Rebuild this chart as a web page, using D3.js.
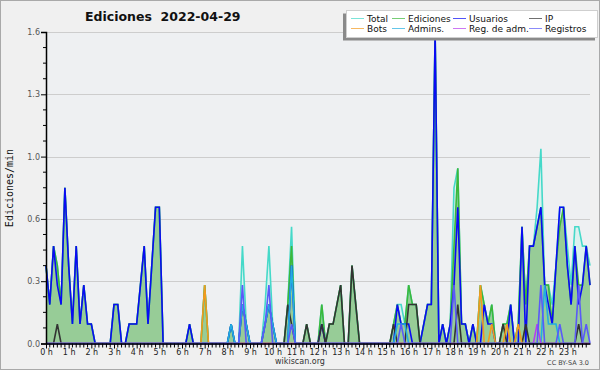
<!DOCTYPE html>
<html>
<head>
<meta charset="utf-8">
<script src="https://cdn.jsdelivr.net/npm/d3@7"></script>
<style>
  body { margin: 0; background: #f0f0f0; }
  svg { display: block; font-family: "DejaVu Sans", sans-serif; }
</style>
</head>
<body>
<div id="chart"></div>
<script>
// edits per minute, one value every 10 minutes from 0:00 to 24:00 (145 values)
// each line below holds 4 hours
const total = [
  .4,.2,.5,.4,.2,.8, .4,.1,.5,.1,.3,.1, .1,0,0,0,0,0, .2,.2,0,0,.1,.1,
  .1,.3,.5,.1,.4,.7, .7,0,0,0,0,0, 0,0,.1,0,0,0, .3,0,0,0,0,0,
  0,.1,0,0,.5,.1, 0,0,0,0,.2,.5, .1,0,0,0,.2,.6, 0,0,0,.1,0,0,
  0,.2,0,.1,.1,.2, .3,0,0,.4,.2,0, 0,0,0,0,0,0, 0,0,.1,.2,.2,.1,
  .3,.2,.2,0,.1,.2, .2,1.6,0,.1,0,.1, .8,.9,.1,.1,0,.1, 0,.3,.2,.1,.2,0,
  0,.1,.1,.2,0,.1, .6,.2,.5,.5,.7,1.0, .3,.3,.2,.4,.7,.7, .5,.3,.6,.6,.5,.5,
  .4
];
const ediciones = [
  .4,.2,.5,.4,.2,.8, .4,.1,.5,.1,.3,.1, .1,0,0,0,0,0, .2,.2,0,0,.1,.1,
  .1,.3,.5,.1,.4,.7, .7,0,0,0,0,0, 0,0,.1,0,0,0, .3,0,0,0,0,0,
  0,.1,0,0,.2,.1, 0,0,0,0,.1,.2, .1,0,0,0,.2,.5, 0,0,0,.1,0,0,
  0,.2,0,.1,.1,.2, .3,0,0,.4,.2,0, 0,0,0,0,0,0, 0,0,.1,.2,.1,.1,
  .3,.2,.2,0,.1,.2, .2,1.6,0,.1,0,.1, .5,.9,.1,.1,0,.1, 0,.3,.2,.1,.2,0,
  0,.1,.1,.2,0,.1, .6,.2,.5,.5,.6,.7, .3,.3,.1,.4,.6,.7, .4,.2,.5,.3,.3,.5,
  .3
];
const usuarios = [
  .4,.2,.5,.3,.2,.8, .4,.1,.5,.1,.3,.1, .1,0,0,0,0,0, .2,.2,0,0,.1,.1,
  .1,.3,.5,.1,.4,.7, .7,0,0,0,0,0, 0,0,.1,0,0,0, 0,0,0,0,0,0,
  0,.1,0,0,.2,.1, 0,0,0,0,.1,.2, .1,0,0,0,0,.4, 0,0,0,0,0,0,
  0,.1,0,0,0,0, 0,0,0,0,0,0, 0,0,0,0,0,0, 0,0,0,.2,.1,.1,
  .1,0,0,0,.1,.2, .2,1.6,0,.1,0,.1, .3,.7,.1,.1,0,.1, 0,0,.2,.1,.1,0,
  0,0,0,.2,0,0, .6,0,.5,.5,.6,.7, .3,.2,.1,.4,.7,.7, .4,.2,.5,.2,.3,.5,
  .3
];
const ip = [
  0,0,0,.1,0,0, 0,0,0,0,0,0, 0,0,0,0,0,0, 0,0,0,0,0,0,
  0,0,0,0,0,0, 0,0,0,0,0,0, 0,0,0,0,0,0, 0,0,0,0,0,0,
  0,0,0,0,0,0, 0,0,0,0,0,0, 0,0,0,0,.2,.1, 0,0,0,.1,0,0,
  0,.1,0,.1,.1,.2, .3,0,0,.4,.2,0, 0,0,0,0,0,0, 0,0,.1,0,0,0,
  .2,.2,.2,0,0,0, 0,0,0,0,0,0, 0,.2,0,0,0,0, 0,0,0,0,0,0,
  0,.1,0,0,0,0, 0,.1,0,0,0,0, 0,0,0,0,0,0, 0,0,0,.1,0,0,
  0
];
const bots = [
  0,0,0,0,0,0, 0,0,0,0,0,0, 0,0,0,0,0,0, 0,0,0,0,0,0,
  0,0,0,0,0,0, 0,0,0,0,0,0, 0,0,0,0,0,0, .3,0,0,0,0,0,
  0,0,0,0,0,0, 0,0,0,0,0,0, 0,0,0,0,0,0, 0,0,0,0,0,0,
  0,0,0,0,0,0, 0,0,0,0,0,0, 0,0,0,0,0,0, 0,0,0,0,0,0,
  0,0,0,0,0,0, 0,0,0,0,0,0, 0,0,0,0,0,0, 0,.3,0,0,.1,0,
  0,0,.1,0,0,.1, 0,0,0,0,0,0, 0,0,0,0,0,0, 0,0,0,0,0,0,
  0
];
const admins = [
  0,0,0,0,0,0, 0,0,0,0,0,0, 0,0,0,0,0,0, 0,0,0,0,0,0,
  0,0,0,0,0,0, 0,0,0,0,0,0, 0,0,0,0,0,0, 0,0,0,0,0,0,
  0,.1,0,0,.2,.1, 0,0,0,0,.1,.2, .1,0,0,0,0,.4, 0,0,0,0,0,0,
  0,0,0,0,0,0, 0,0,0,0,0,0, 0,0,0,0,0,0, 0,0,0,.1,.1,.1,
  0,0,0,0,0,0, 0,0,0,0,0,0, 0,0,0,0,0,0, 0,0,0,0,0,0,
  0,0,0,0,0,0, 0,0,0,0,0,0, .3,.1,.1,.1,0,0, 0,0,0,0,0,0,
  0
];
const regAdm = [
  0,0,0,0,0,0, 0,0,0,0,0,0, 0,0,0,0,0,0, 0,0,0,0,0,0,
  0,0,0,0,0,0, 0,0,0,0,0,0, 0,0,0,0,0,0, 0,0,0,0,0,0,
  0,0,0,0,0,0, 0,0,0,0,0,0, 0,0,0,0,0,0, 0,0,0,0,0,0,
  0,0,0,0,0,0, 0,0,0,0,0,0, 0,0,0,0,0,0, 0,0,0,0,0,0,
  0,0,0,0,0,0, 0,0,0,0,0,0, 0,0,0,0,0,0, 0,0,0,0,0,0,
  0,0,0,0,0,0, 0,0,0,0,.1,0, 0,0,0,0,0,0, 0,0,0,0,0,0,
  0
];
const registros = [
  0,0,0,0,0,0, 0,0,0,0,0,0, 0,0,0,0,0,0, 0,0,0,0,0,0,
  0,0,0,0,0,0, 0,0,0,0,0,0, 0,0,0,0,0,0, 0,0,0,0,0,0,
  0,0,0,0,.3,0, 0,0,0,0,.1,.3, 0,0,0,0,0,.1, 0,0,0,0,0,0,
  0,0,0,0,0,0, 0,0,0,0,0,0, 0,0,0,0,0,0, 0,0,0,0,.1,0,
  0,0,0,0,0,0, 0,0,0,0,0,0, .3,0,0,0,0,0, 0,0,0,0,0,0,
  0,0,0,0,0,0, 0,0,0,0,0,.3, 0,0,0,0,.1,0, 0,0,0,.3,0,.1,
  0
];

const hourLabels = ["0 h","1 h","2 h","3 h","4 h","5 h","6 h","7 h","8 h","9 h","10 h","11 h",
  "12 h","13 h","14 h","15 h","16 h","17 h","18 h","19 h","20 h","21 h","22 h","23 h"];
const yTicks = [0, 0.32, 0.64, 0.96, 1.28, 1.6];

const series = [
  {name: "Total",        values: total,     color: "#45d9c9", fill: "#dbf1ef"},
  {name: "Ediciones",    values: ediciones, color: "#3cb83c", fill: "#97cc97"},
  {name: "Usuarios",     values: usuarios,  color: "#0a0af5"},
  {name: "IP",           values: ip,        color: "#333333"},
  {name: "Bots",         values: bots,      color: "#f39a1e"},
  {name: "Admins.",      values: admins,    color: "#22aee0"},
  {name: "Reg. de adm.", values: regAdm,    color: "#b63ef0"},
  {name: "Registros",    values: registros, color: "#5a5af8"}
];

const width = 600, height = 370;
const plot = {left: 46, right: 590, top: 32, bottom: 343.5};

const svg = d3.select("#chart").append("svg")
    .attr("width", width)
    .attr("height", height);

svg.append("rect")
    .attr("x", 0.5).attr("y", 0.5)
    .attr("width", width - 1).attr("height", height - 1)
    .attr("fill", "#f0f0f0")
    .attr("stroke", "#a9a9a9");

svg.append("rect")
    .attr("x", plot.left).attr("y", plot.top)
    .attr("width", plot.right - plot.left)
    .attr("height", plot.bottom - plot.top)
    .attr("fill", "#eef0f2");

const x = d3.scaleLinear().domain([0, 24]).range([plot.left, plot.right]);
const y = d3.scaleLinear().domain([0, 1.6]).range([plot.bottom, plot.top]);

// grid
svg.append("g").selectAll("line")
  .data(yTicks.slice(1))
  .join("line")
    .attr("x1", plot.left).attr("x2", plot.right)
    .attr("y1", d => Math.round(y(d)) + 0.5)
    .attr("y2", d => Math.round(y(d)) + 0.5)
    .attr("stroke", "#cdcdcd");

const px = (d, i) => x(i / 6);
const area = d3.area().x(px).y0(y(0)).y1(d => y(d));
const line = d3.line().x(px).y(d => y(d));

// filled series first
series.filter(s => s.fill).forEach(s => {
  svg.append("path")
    .datum(s.values)
    .attr("fill", s.fill)
    .attr("d", area);
});

series.forEach(s => {
  svg.append("path")
    .datum(s.values)
    .attr("fill", "none")
    .attr("stroke", s.color)
    .attr("stroke-width", 1.6)
    .attr("stroke-linejoin", "miter")
    .attr("d", line);
});

// y axis
const yAxis = svg.append("g")
    .attr("transform", `translate(${plot.left},0)`)
    .call(d3.axisLeft(y)
      .tickValues(yTicks)
      .tickFormat(d => d.toFixed(1))
      .tickSize(5)
      .tickPadding(1));
yAxis.select(".domain").attr("stroke", "#000").attr("stroke-width", 1.5);
yAxis.selectAll("text").attr("font-size", 8).attr("fill", "#555")
    .attr("font-family", "DejaVu Sans");

svg.append("g").selectAll("line")
  .data(d3.range(0, 21).map(i => i * 0.08).filter((d, i) => i % 4 !== 0))
  .join("line")
    .attr("x1", plot.left - 3).attr("x2", plot.left)
    .attr("y1", d => y(d)).attr("y2", d => y(d))
    .attr("stroke", "#000");

// x axis
const xAxis = svg.append("g")
    .attr("transform", `translate(0,${plot.bottom})`)
    .call(d3.axisBottom(x)
      .tickValues(d3.range(0, 24))
      .tickFormat((d, i) => hourLabels[i])
      .tickSize(5)
      .tickPadding(1)
      .tickSizeOuter(0));
xAxis.select(".domain").attr("stroke", "#000").attr("stroke-width", 1.5);
xAxis.selectAll("text").attr("font-size", 8).attr("fill", "#222")
    .attr("font-family", "DejaVu Sans");

svg.append("g").selectAll("line")
  .data(d3.range(0, 145).filter(i => i % 6 !== 0))
  .join("line")
    .attr("x1", i => x(i / 6)).attr("x2", i => x(i / 6))
    .attr("y1", plot.bottom).attr("y2", plot.bottom + 4)
    .attr("stroke", "#000");

// titles
svg.append("text")
    .attr("x", 85).attr("y", 21)
    .attr("font-size", 12.5)
    .attr("font-weight", "bold")
    .attr("fill", "#111")
    .style("white-space", "pre")
    .text("Ediciones  2022-04-29");

svg.append("text")
    .attr("transform", "translate(13,188) rotate(-90)")
    .attr("text-anchor", "middle")
    .attr("font-family", "DejaVu Sans Mono")
    .attr("font-size", 10)
    .attr("fill", "#111")
    .text("Ediciones/min");

svg.append("text")
    .attr("x", 300).attr("y", 364)
    .attr("text-anchor", "middle")
    .attr("font-size", 8)
    .attr("fill", "#333")
    .text("wikiscan.org");

svg.append("text")
    .attr("x", 589).attr("y", 364.5)
    .attr("text-anchor", "end")
    .attr("font-size", 6.5)
    .attr("fill", "#444")
    .text("CC BY-SA 3.0");

// legend
const legend = svg.append("g");
legend.append("rect")
    .attr("x", 343).attr("y", 13.5)
    .attr("width", 252).attr("height", 27)
    .attr("fill", "#8a8a8a");
legend.append("rect")
    .attr("x", 346.5).attr("y", 10.5)
    .attr("width", 251).attr("height", 27)
    .attr("fill", "#fff")
    .attr("stroke", "#cfcfcf");

const legendCols = [351, 392, 453, 529];
series.forEach((s, k) => {
  const cx = legendCols[k % 4];
  const cy = k < 4 ? 18 : 28;
  legend.append("line")
    .attr("x1", cx).attr("x2", cx + 13)
    .attr("y1", cy + 0.5).attr("y2", cy + 0.5)
    .attr("stroke", s.color)
    .attr("stroke-opacity", 0.7);
  legend.append("text")
    .attr("x", cx + 16).attr("y", cy + 3.5)
    .attr("font-size", 9)
    .attr("fill", "#111")
    .text(s.name);
});
</script>
</body>
</html>
